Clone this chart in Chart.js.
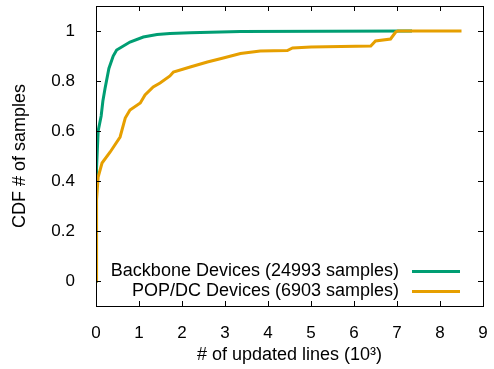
<!DOCTYPE html>
<html>
<head>
<meta charset="utf-8">
<script src="https://cdn.jsdelivr.net/npm/chart.js@4.4.1/dist/chart.umd.min.js"></script>
<style>
  html, body { margin: 0; padding: 0; background: #fff; }
  #wrap { width: 494px; height: 369px; }
</style>
</head>
<body>
<div id="wrap"><canvas id="chart" width="494" height="369"></canvas></div>
<script>
// CDF curves (x in thousands of lines)
const backboneX = [0, 0.005, 0.02, 0.05, 0.12, 0.16, 0.21, 0.3, 0.4, 0.48, 0.79, 1.1, 1.42, 1.72, 2.19, 3.36, 7.35];
const backboneY = [0, 0.3, 0.45, 0.6, 0.66, 0.72, 0.77, 0.85, 0.9, 0.924, 0.956, 0.976, 0.986, 0.99, 0.993, 0.998, 1.0];

const popX = [0, 0.005, 0.02, 0.05, 0.14, 0.33, 0.56, 0.68, 0.79, 1.03, 1.14, 1.33, 1.49, 1.72, 1.8, 2.19, 2.59, 2.96, 3.36, 3.82, 4.45, 4.57, 5.0, 6.39, 6.5, 6.85, 6.97, 7.02, 8.5];
const popY = [0, 0.19, 0.324, 0.416, 0.472, 0.516, 0.576, 0.652, 0.684, 0.712, 0.744, 0.776, 0.792, 0.82, 0.836, 0.856, 0.876, 0.892, 0.91, 0.92, 0.922, 0.932, 0.936, 0.94, 0.96, 0.968, 0.996, 1.0, 1.0];

const seriesLabels = ["Backbone Devices (24993 samples)", "POP/DC Devices (6903 samples)"];
const seriesColors = ["#009e73", "#e69f00"];
const xTicks = [0, 1, 2, 3, 4, 5, 6, 7, 8, 9];
const yTicks = [0, 0.2, 0.4, 0.6, 0.8, 1];

const FONT = "'Liberation Sans', Arial, Helvetica, sans-serif";

function toPoints(xs, ys) {
  return xs.map((x, i) => ({ x: x, y: ys[i] }));
}

// frame, inward ticks on all four sides, and the legend
const framePlugin = {
  id: "frame",
  afterDatasetsDraw(chart) {
    const ctx = chart.ctx;
    const a = chart.chartArea;
    const xs = chart.scales.x;
    const ys = chart.scales.y;
    ctx.save();
    ctx.strokeStyle = "#000";
    ctx.lineWidth = 1;
    ctx.beginPath();
    xTicks.forEach((v) => {
      const px = Math.round(xs.getPixelForValue(v)) + 0.5;
      ctx.moveTo(px, a.bottom);
      ctx.lineTo(px, a.bottom - 5);
      ctx.moveTo(px, a.top);
      ctx.lineTo(px, a.top + 5);
    });
    yTicks.forEach((v) => {
      const py = Math.round(ys.getPixelForValue(v)) + 0.5;
      ctx.moveTo(a.left, py);
      ctx.lineTo(a.left + 5, py);
      ctx.moveTo(a.right, py);
      ctx.lineTo(a.right - 5, py);
    });
    ctx.stroke();
    ctx.strokeRect(Math.round(a.left) + 0.5, Math.round(a.top) + 0.5,
      Math.round(a.right - a.left), Math.round(a.bottom - a.top));

    // legend, bottom right inside the plot
    ctx.font = "18px " + FONT;
    ctx.textAlign = "right";
    ctx.textBaseline = "middle";
    chart.data.datasets.forEach((ds, i) => {
      const y = 271 + i * 20;
      ctx.fillStyle = "#000";
      ctx.fillText(ds.label, 399, y);
      ctx.strokeStyle = ds.borderColor;
      ctx.lineWidth = 3;
      ctx.beginPath();
      ctx.moveTo(412, y + 0.5);
      ctx.lineTo(460, y + 0.5);
      ctx.stroke();
    });
    ctx.restore();
  }
};

new Chart(document.getElementById("chart"), {
  type: "line",
  data: {
    datasets: [
      {
        label: seriesLabels[0],
        data: toPoints(backboneX, backboneY),
        borderColor: seriesColors[0],
        borderWidth: 3,
        pointRadius: 0,
        tension: 0,
        order: 2,
      },
      {
        label: seriesLabels[1],
        data: toPoints(popX, popY),
        borderColor: seriesColors[1],
        borderWidth: 3,
        pointRadius: 0,
        tension: 0,
        order: 1,
      },
    ],
  },
  options: {
    responsive: false,
    animation: false,
    layout: { padding: { top: 6, right: 11, left: 0, bottom: 0 } },
    plugins: {
      legend: { display: false },
      tooltip: { enabled: false },
    },
    scales: {
      x: {
        type: "linear",
        min: 0,
        max: 9,
        grid: { display: false },
        border: { display: false },
        afterBuildTicks: (s) => { s.ticks = xTicks.map((v) => ({ value: v })); },
        afterFit: (s) => {
          s.height = 63;
          s.paddingLeft = 0;
          s.paddingRight = 0;
        },
        ticks: {
          padding: 9,
          color: "#000",
          font: { family: FONT, size: 17 },
          maxRotation: 0,
        },
        title: {
          display: true,
          text: "# of updated lines (10³)",
          color: "#000",
          font: { family: FONT, size: 18 },
          padding: { top: 0, bottom: 3 },
        },
      },
      y: {
        min: -0.1,
        max: 1.1,
        grid: { display: false },
        border: { display: false },
        afterBuildTicks: (s) => { s.ticks = yTicks.map((v) => ({ value: v })); },
        afterFit: (s) => {
          s.width = 96;
          s.paddingTop = 0;
          s.paddingBottom = 0;
        },
        ticks: {
          padding: 13,
          color: "#000",
          font: { family: FONT, size: 17 },
          callback: (v) => String(Math.round(v * 10) / 10),
        },
        title: {
          display: true,
          text: "CDF # of samples",
          color: "#000",
          font: { family: FONT, size: 18 },
          padding: { top: 9, bottom: 0 },
        },
      },
    },
  },
  plugins: [framePlugin],
});
</script>
</body>
</html>
